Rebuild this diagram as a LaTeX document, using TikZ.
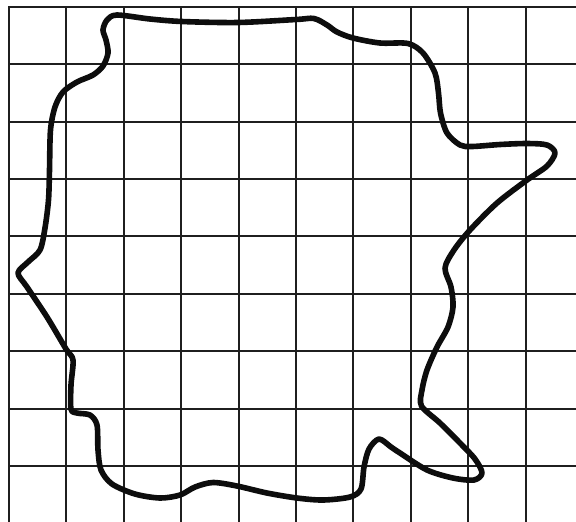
\documentclass[tikz,border=0pt]{standalone}
\begin{document}
\begin{tikzpicture}[x=0.5pt,y=-0.5pt,
  gridline/.style={line width=1.0pt,draw=black!88,line cap=rect},
  outline/.style={line width=2.8pt,draw=black!95,line join=round}]
\useasboundingbox[fill=white] (0,0) rectangle (576,521);
\foreach \k in {0,...,9}
  \draw[gridline] ({8.7+57.45*\k},6.7) -- ({8.7+57.45*\k},521);
\foreach \k in {0,...,8}
  \draw[gridline] (8.7,{6.7+57.4*\k}) -- (576,{6.7+57.4*\k});
\draw[outline] plot[smooth cycle, tension=0.5] coordinates {
  (117,15) (150,19) (182,21.5) (238,22.5) (296,19.5) (314,18.5)
  (327,25) (337,32) (353,38) (380,43) (408,43.5) (423,53)
  (435,73) (438.5,93) (440.5,113) (447,133) (460,145) (472,146.5)
  (500,144.5) (527,143.5) (547,145) (555,153) (547,166) (527,180)
  (497,203) (470,230) (454,250) (445,268) (451,287) (453,307)
  (448,327) (437,347) (427,370) (422,390) (421.5,406) (440,423)
  (460,443) (475,459) (482,473) (474,480) (453,478) (427,470)
  (400,453) (391,447) (379,439) (369,449) (364,467) (361,489)
  (350,497) (323,500) (297,498) (267,493) (237,486) (213,482.5)
  (195,487) (180,495) (160,498) (135,494) (112,484) (101,470)
  (98,450) (97,425) (90,415) (77,413) (71,409) (71,385)
  (73,360) (66,349) (47,317) (27,287) (18,273) (28,262)
  (40,250) (45,228) (48.5,200) (49.5,170) (50.5,130) (55,107)
  (63,92) (77,82) (93,75) (103,66) (108,53) (106,40)
  (103,30) (107,20)
};
\end{tikzpicture}
\end{document}
